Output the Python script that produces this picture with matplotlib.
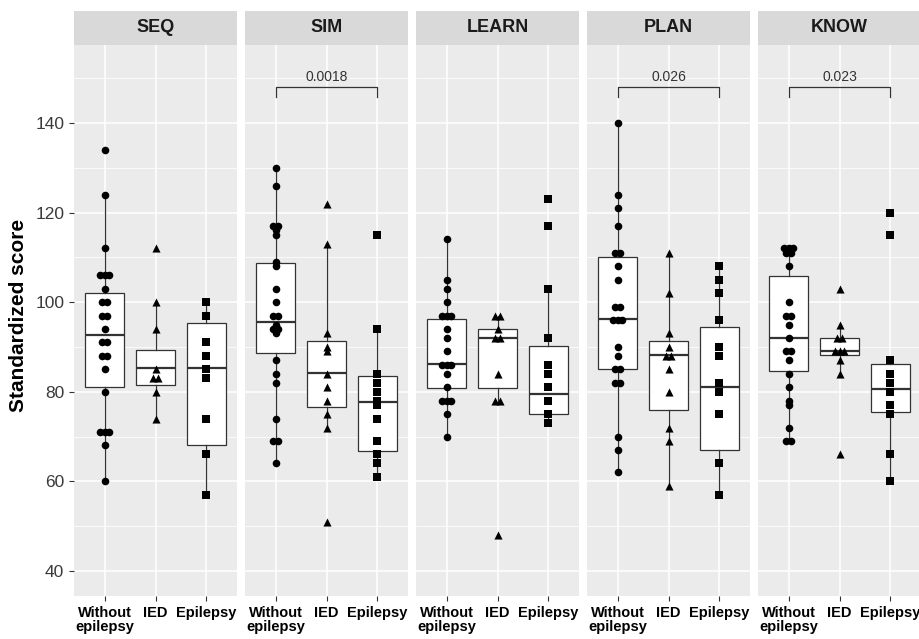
import matplotlib
matplotlib.use("Agg")
import matplotlib.pyplot as plt
import numpy as np

plt.rcParams["font.family"] = ["Liberation Sans", "DejaVu Sans"]

# ── data ────────────────────────────────────────────────────────────────────
tests = ["SEQ", "SIM", "LEARN", "PLAN", "KNOW"]
groups = ["Without\nepilepsy", "IED", "Epilepsy"]
markers = ["o", "^", "s"]
marker_sizes = [30, 34, 26]

seq_scores = [
    [134, 124, 112, 106, 106, 106, 103, 100, 100, 97, 97, 94, 91, 91, 88, 88,
     85, 80, 71, 71, 71, 68, 60],
    [112, 100, 94, 85, 83, 83, 80, 74],
    [100, 97, 91, 88, 85, 83, 74, 66, 57],
]
sim_scores = [
    [130, 126, 117, 117, 116, 115, 109, 108, 103, 100, 97, 97, 95, 94, 94, 93,
     87, 84, 82, 74, 69, 69, 64],
    [122, 113, 93, 90, 89, 84, 81, 78, 75, 72, 51],
    [115, 94, 84, 82, 80, 78, 77, 74, 69, 66, 64, 61],
]
learn_scores = [
    [114, 105, 103, 100, 97, 97, 97, 94, 92, 89, 86, 86, 86, 84, 81, 78, 78, 78,
     75, 70],
    [97, 97, 94, 92, 92, 84, 78, 78, 48],
    [123, 117, 103, 92, 86, 84, 81, 78, 75, 73],
]
plan_scores = [
    [140, 124, 121, 117, 111, 111, 108, 105, 99, 99, 96, 96, 96, 90, 88, 85, 85,
     82, 82, 70, 67, 62],
    [111, 102, 93, 90, 88, 88, 85, 80, 72, 69, 59],
    [108, 105, 102, 96, 90, 88, 82, 80, 75, 64, 57],
]
know_scores = [
    [112, 112, 112, 111, 111, 108, 100, 97, 97, 95, 92, 89, 89, 87, 84, 81, 78,
     77, 72, 69, 69],
    [103, 95, 92, 92, 89, 89, 89, 87, 84, 66],
    [120, 115, 87, 84, 82, 80, 77, 75, 66, 60],
]

# (Q1, median, Q3) per group, as drawn
seq_box = [(81.1, 92.6, 102.1), (81.4, 85.2, 89.3), (68.1, 85.2, 95.4)]
sim_box = [(88.6, 95.6, 108.8), (76.5, 84.1, 91.3), (66.8, 77.7, 83.4)]
learn_box = [(80.8, 86.3, 96.2), (80.8, 92.1, 94.0), (75.0, 79.4, 90.3)]
plan_box = [(85.0, 96.2, 110.0), (76.0, 88.2, 91.3), (66.9, 81.0, 94.4)]
know_box = [(84.7, 92.1, 105.9), (88.1, 89.2, 91.9), (75.4, 80.6, 86.2)]

p_values = {"SIM": "0.0018", "PLAN": "0.026", "KNOW": "0.023"}

scores = [seq_scores, sim_scores, learn_scores, plan_scores, know_scores]
boxes = [seq_box, sim_box, learn_box, plan_box, know_box]

# ── layout (pixels of a 919x639 canvas) ─────────────────────────────────────
W, H = 919, 639
panel_left, panel_w, panel_step = 74, 163, 171
panel_top, panel_bottom = 45, 596
strip_top = 11

fig = plt.figure(figsize=(W / 100, H / 100), dpi=100)


def frac(x0, y0, w, h):
    return [x0 / W, 1 - (y0 + h) / H, w / W, h / H]


def box_stats(vals, q1, med, q3):
    v = np.asarray(vals, dtype=float)
    iqr = q3 - q1
    lo = v[v >= q1 - 1.5 * iqr].min()
    hi = v[v <= q3 + 1.5 * iqr].max()
    return dict(q1=q1, med=med, q3=q3, whislo=lo, whishi=hi, fliers=[])


def spread(vals, step=0.09):
    """Place tied values side by side instead of on top of each other."""
    v = np.asarray(vals, dtype=float)
    off = np.zeros_like(v)
    for u in np.unique(v):
        idx = np.where(v == u)[0]
        off[idx] = (np.arange(len(idx)) - (len(idx) - 1) / 2) * step
    return off


for i, test in enumerate(tests):
    x0 = panel_left + i * panel_step
    ax = fig.add_axes(frac(x0, panel_top, panel_w, panel_bottom - panel_top))
    ax.set_facecolor("#EBEBEB")
    for s in ax.spines.values():
        s.set_visible(False)

    stats = [box_stats(v, *b) for v, b in zip(scores[i], boxes[i])]
    ax.bxp(stats, positions=[1, 2, 3], widths=0.75, patch_artist=True,
           showfliers=False, showcaps=False, manage_ticks=False,
           boxprops=dict(facecolor="white", edgecolor="#333333", linewidth=0.9),
           whiskerprops=dict(color="#333333", linewidth=0.9),
           medianprops=dict(color="#333333", linewidth=1.6),
           zorder=2)

    for g, vals in enumerate(scores[i]):
        xs = g + 1 + spread(vals)
        ax.scatter(xs, vals, marker=markers[g], s=marker_sizes[g],
                   color="black", linewidths=0, zorder=3)

    if test in p_values:
        yb, tip = 148.1, 2.2
        ax.plot([1, 1, 3, 3], [yb - tip, yb, yb, yb - tip], color="#333333",
                linewidth=0.9, zorder=3)
        ax.text(2, yb + 0.6, p_values[test], ha="center", va="bottom",
                fontsize=10, color="#333333")

    ax.set_xlim(0.4, 3.6)
    ax.set_ylim(34.4, 157.4)
    ax.set_yticks([40, 60, 80, 100, 120, 140])
    ax.set_yticks([50, 70, 90, 110, 130, 150], minor=True)
    ax.set_xticks([1, 2, 3])
    ax.grid(which="major", color="white", linewidth=1.1, zorder=0)
    ax.grid(which="minor", axis="y", color="white", linewidth=0.55, zorder=0)
    ax.set_axisbelow(True)
    ax.tick_params(axis="both", which="major", length=3.5, width=0.8,
                   color="#333333")
    ax.tick_params(axis="y", which="minor", length=0)
    ax.set_xticklabels(groups, fontsize=10.5, fontweight="bold",
                       color="black", linespacing=1.05)
    ax.tick_params(axis="x", pad=3.5)
    if i == 0:
        ax.set_yticklabels(["40", "60", "80", "100", "120", "140"],
                           fontsize=12.5, color="#3A3A3A")
    else:
        ax.tick_params(axis="y", which="major", length=0, labelleft=False)

    sax = fig.add_axes(frac(x0, strip_top, panel_w, panel_top - strip_top))
    sax.set_facecolor("#D9D9D9")
    sax.set_xticks([])
    sax.set_yticks([])
    for s in sax.spines.values():
        s.set_visible(False)
    sax.text(0.5, 0.5, test, transform=sax.transAxes, ha="center",
             va="center", fontsize=13, fontweight="bold", color="#1A1A1A")

fig.text(19 / W, 1 - 315 / H, "Standardized score", rotation=90,
         ha="center", va="center", fontsize=15, fontweight="bold",
         color="black")

fig.savefig("out.png", dpi=100)
